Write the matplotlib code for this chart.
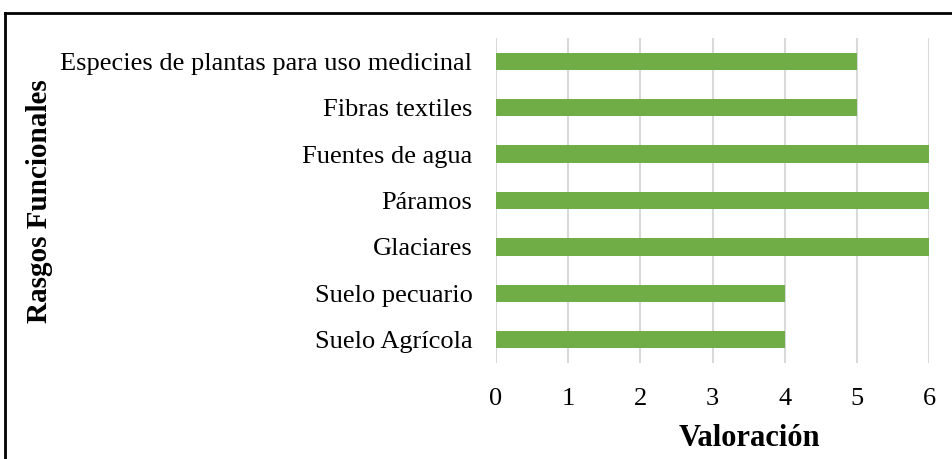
import matplotlib
matplotlib.use('Agg')
import matplotlib.pyplot as plt
from matplotlib.lines import Line2D

# data
categories = ['Suelo Agrícola', 'Suelo pecuario', 'Glaciares', 'Páramos',
              'Fuentes de agua', 'Fibras textiles',
              'Especies de plantas para uso medicinal']
values = [4, 4, 6, 6, 6, 5, 5]
xticks = [0, 1, 2, 3, 4, 5, 6]

plt.rcParams['font.family'] = ['Liberation Serif', 'DejaVu Serif']

W, H = 953, 459
fig = plt.figure(figsize=(W / 100, H / 100), dpi=100)
ax = fig.add_axes([496 / W, 1 - 363 / H, (929 - 496) / W, (363 - 38) / H])

ax.barh(range(len(categories)), values, height=0.37, color='#70AD47', zorder=3)
ax.set_yticks(range(len(categories)))
ax.set_yticklabels(categories, fontsize=19)
ax.set_xticks(xticks)
ax.set_xticklabels([str(t) for t in xticks], fontsize=19)
ax.set_xlim(0, 6)
ax.set_ylim(-0.5, len(categories) - 0.5)
ax.grid(axis='x', color='#D9D9D9', linewidth=1.5, zorder=0)
for s in ax.spines.values():
    s.set_visible(False)
ax.tick_params(axis='both', length=0)
ax.tick_params(axis='x', pad=18)
ax.tick_params(axis='y', pad=17)
ax.set_xlabel('Valoración', fontsize=22, fontweight='bold')
ax.xaxis.set_label_coords((749 - 496) / (929 - 496), -(438 - 363) / (363 - 38))
ax.xaxis.label.set_va('center')
fig.text(40 / W, 1 - 201 / H, 'Rasgos Funcionales', rotation=90, fontsize=21,
         fontweight='bold', ha='center', va='center')

# frame around the figure (top and left visible)
fig.add_artist(Line2D([5 / W, 1], [1 - 13 / H, 1 - 13 / H], color='black', lw=2,
                      transform=fig.transFigure))
fig.add_artist(Line2D([5 / W, 5 / W], [1 - 13 / H, 0], color='black', lw=2,
                      transform=fig.transFigure))

fig.savefig('out.png', dpi=100)
